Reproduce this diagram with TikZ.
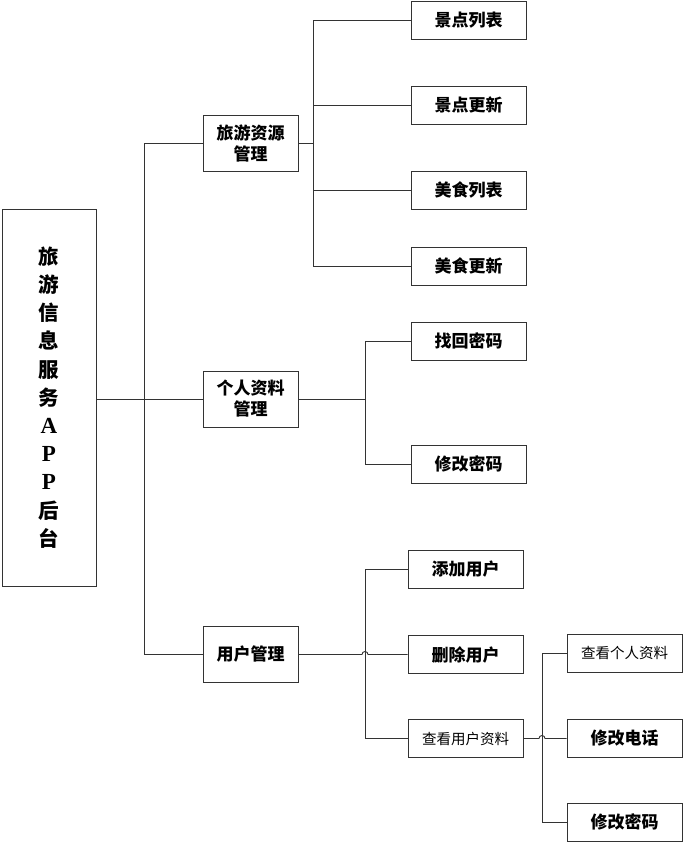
\documentclass[tikz,border=0pt]{standalone}
\usepackage{fontspec}
\setmainfont{Liberation Serif}
\newfontfamily\cjk{Noto Sans CJK SC}
\newcommand\bigL[1]{{\rmfamily\bfseries\fontsize{23}{28.2}\selectfont #1}}
\begin{document}
\begin{tikzpicture}[x=1pt,y=-1pt,
  box/.style={draw=black!80,line width=0.9pt,inner sep=0pt,align=center},
  leaf/.style={box,minimum width=115pt,minimum height=38pt,font=\cjk\bfseries\fontsize{17}{20}\selectfont},
  leafn/.style={box,minimum width=115pt,minimum height=38pt,font=\cjk\fontsize{14.5}{18}\selectfont},
  mid/.style={box,minimum width=95pt,minimum height=56pt,font=\cjk\bfseries\fontsize{17}{21}\selectfont},
  conn/.style={draw=black!80,line width=0.9pt}]
\useasboundingbox (0,0) rectangle (683,844);
% root
\node[box,minimum width=94pt,minimum height=377pt,font=\cjk\bfseries\fontsize{20.5}{28.2}\selectfont] (root) at (49,397.5)
  {旅\\游\\信\\息\\服\\务\\\bigL{A}\\\bigL{P}\\\bigL{P}\\后\\台};
% mid
\node[mid] (lv) at (250.5,143) {旅游资源\\管理};
\node[mid] (gr) at (250.5,399) {个人资料\\管理};
\node[mid] (yh) at (250.5,654.5) {用户管理};
% leaves group 1
\node[leaf] (a1) at (468.5,20.5) {景点列表};
\node[leaf] (a2) at (468.5,105) {景点更新};
\node[leaf] (a3) at (468.5,190) {美食列表};
\node[leaf] (a4) at (468.5,266) {美食更新};
% group 2
\node[leaf] (b1) at (468.5,341) {找回密码};
\node[leaf] (b2) at (468.5,464) {修改密码};
% group 3
\node[leaf] (c1) at (465.5,569) {添加用户};
\node[leaf] (c2) at (465.5,654.5) {删除用户};
\node[leafn] (c3) at (465.5,738.5) {查看用户资料};
% group 4
\node[leafn] (d1) at (624.5,653) {查看个人资料};
\node[leaf] (d2) at (624.5,738.5) {修改电话};
\node[leaf] (d3) at (624.5,822) {修改密码};
% branch coordinates
\coordinate (t) at (144,0);
\coordinate (ba) at (313,0);
\coordinate (bb) at (365,0);
\coordinate (bc) at (365,0);
\coordinate (bd) at (542,0);
% trunk
\draw[conn] (root.east |- gr.west) -- (gr.west);
\draw[conn] (lv.west) -- (t |- lv.west) -- (t |- yh.west) -- (yh.west);
% group 1
\draw[conn] (lv.east) -- (ba |- lv.east);
\draw[conn] (a1.west) -- (ba |- a1.west) -- (ba |- a4.west) -- (a4.west);
\draw[conn] (a2.west) -- (ba |- a2.west);
\draw[conn] (a3.west) -- (ba |- a3.west);
% group 2
\draw[conn] (gr.east) -- (bb |- gr.east);
\draw[conn] (b1.west) -- (bb |- b1.west) -- (bb |- b2.west) -- (b2.west);
% group 3
\draw[conn] (c1.west) -- (bc |- c1.west) -- (bc |- c3.west) -- (c3.west);
\draw[conn] (yh.east) -- ([xshift=-3pt]bc |- yh.east) arc[start angle=180,end angle=0,radius=3pt] -- (c2.west);
% group 4
\draw[conn] (d1.west) -- (bd |- d1.west) -- (bd |- d3.west) -- (d3.west);
\draw[conn] (c3.east) -- ([xshift=-3pt]bd |- d2.west) arc[start angle=180,end angle=0,radius=3pt] -- (d2.west);
\end{tikzpicture}
\end{document}
